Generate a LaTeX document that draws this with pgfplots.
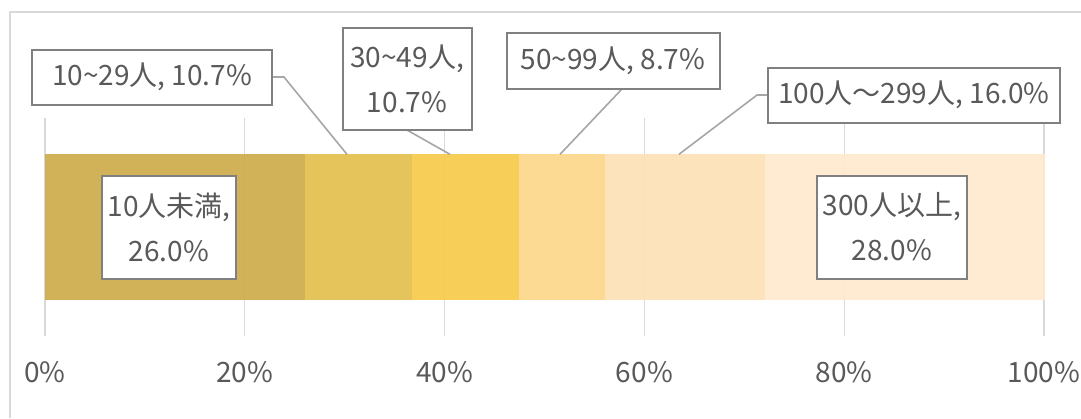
\documentclass[border=0pt]{standalone}
\usepackage{pgfplots}
\pgfplotsset{compat=1.18}
\usepackage{fontspec}
\setmainfont{Noto Sans CJK JP}
\definecolor{c1}{HTML}{CFAC4B}
\definecolor{c2}{HTML}{E3BF4F}
\definecolor{c3}{HTML}{F5CA4B}
\definecolor{c4}{HTML}{FDD78C}
\definecolor{c5}{HTML}{FDE1B6}
\definecolor{c6}{HTML}{FEE9CF}
\definecolor{txt}{HTML}{595959}
\definecolor{gridc}{HTML}{D9D9D9}
\definecolor{boxc}{HTML}{808080}
\definecolor{leadc}{HTML}{A6A6A6}
\begin{document}
\begin{tikzpicture}[
  lbl/.style={draw=boxc, line width=1pt, fill=white, text=txt, align=center, inner sep=0pt,
     font=\fontsize{14}{22.5}\selectfont},
  ldr/.style={leadc, line width=0.8pt},
]
\useasboundingbox (0,0) rectangle (540.5pt,209pt);
\draw[gridc, line width=0.6pt] (5pt,0pt) -- (5pt,203pt) -- (540.5pt,203pt);
\begin{axis}[
  at={(22.5pt,41pt)}, anchor=south west,
  scale only axis, width=499.5pt, height=109pt,
  xbar stacked, bar width=1,
  xmin=0, xmax=100, ymin=-0.75, ymax=0.75,
  ytick=\empty,
  xtick={0,20,40,60,80,100},
  xticklabels={0\%,20\%,40\%,60\%,80\%,100\%},
  xmajorgrids, grid style={gridc, line width=0.6pt},
  axis line style={draw=none}, tick style={draw=none},
  xticklabel style={anchor=center, yshift=-18pt, text=txt, font=\fontsize{14}{17}\selectfont},
  clip=false,
  every axis plot/.append style={draw=none, fill opacity=0.93},
]
\addplot[fill=c1] coordinates {(26.0,0)};
\addplot[fill=c2] coordinates {(10.7,0)};
\addplot[fill=c3] coordinates {(10.7,0)};
\addplot[fill=c4] coordinates {(8.7,0)};
\addplot[fill=c5] coordinates {(16.0,0)};
\addplot[fill=c6] coordinates {(28.0,0)};
\coordinate (a1) at (axis cs:22.72,1.032);
\coordinate (a2) at (axis cs:23.92,1.032);
\coordinate (a3) at (axis cs:30.23,0.5);
\coordinate (b1) at (axis cs:36.24,0.667);
\coordinate (b2) at (axis cs:40.54,0.5);
\coordinate (d1) at (axis cs:57.76,0.95);
\coordinate (d2) at (axis cs:51.55,0.5);
\coordinate (e1) at (axis cs:72.37,0.908);
\coordinate (e2) at (axis cs:71.27,0.908);
\coordinate (e3) at (axis cs:63.46,0.5);
\coordinate (L1) at (axis cs:10.71,1.032);
\coordinate (L2) at (axis cs:36.24,1.018);
\coordinate (L3) at (axis cs:56.86,1.142);
\coordinate (L4) at (axis cs:86.99,0.908);
\coordinate (L5) at (axis cs:12.41,0);
\coordinate (L6) at (axis cs:84.78,0);
\end{axis}
\draw[ldr] (a1) -- (a2) -- (a3);
\draw[ldr] (b1) -- (b2);
\draw[ldr] (d1) -- (d2);
\draw[ldr] (e1) -- (e2) -- (e3);
\node[lbl, minimum width=120pt, minimum height=27.5pt] at (L1) {10\textasciitilde29人, 10.7\%};
\node[lbl, minimum width=64.5pt, minimum height=51pt] at (L2) {30\textasciitilde49人,\\10.7\%};
\node[lbl, minimum width=106.5pt, minimum height=28pt] at (L3) {50\textasciitilde99人, 8.7\%};
\node[lbl, minimum width=146pt, minimum height=27.5pt] at (L4) {100人～299人, 16.0\%};
\node[lbl, minimum width=67pt, minimum height=51.5pt] at (L5) {10人未満,\\26.0\%};
\node[lbl, minimum width=75pt, minimum height=51.5pt] at (L6) {300人以上,\\28.0\%};
\end{tikzpicture}
\end{document}
